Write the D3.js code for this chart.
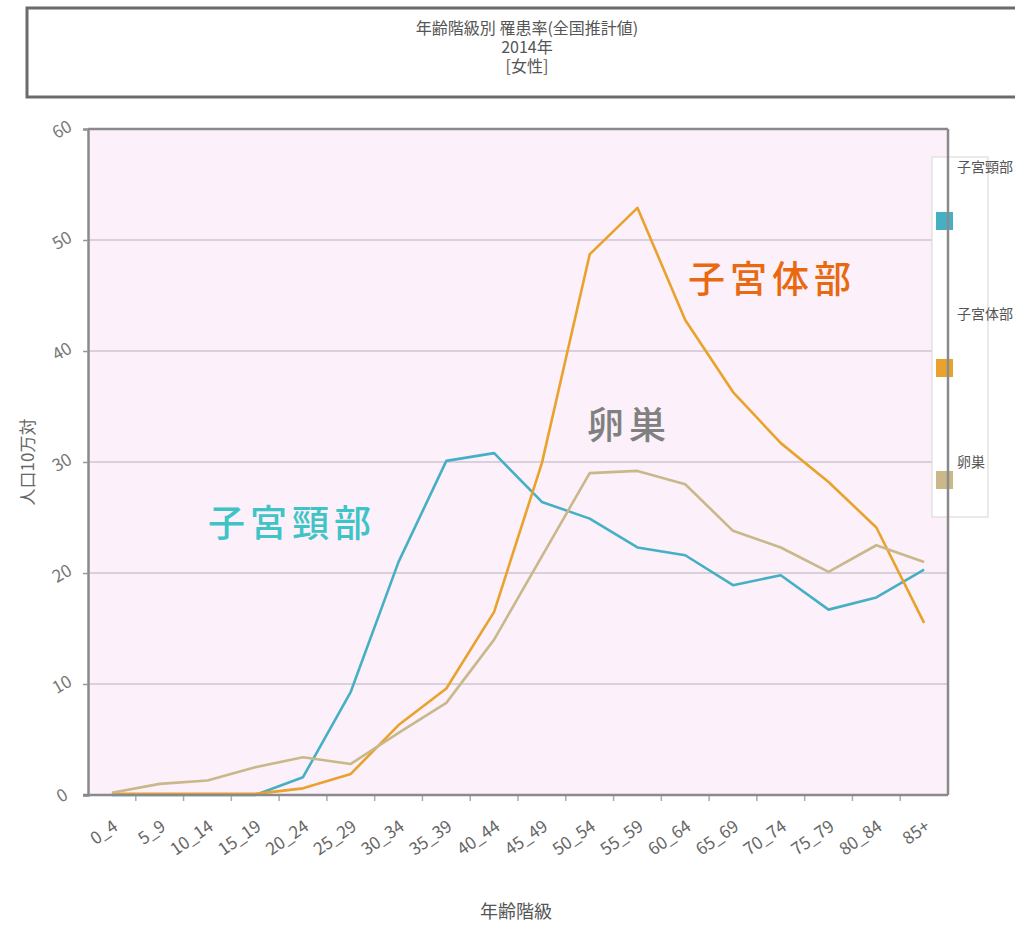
<!DOCTYPE html>
<html lang="ja">
<head>
<meta charset="UTF-8">
<title>年齢階級別 罹患率</title>
<script src="https://d3js.org/d3.v7.min.js"></script>
<style>
    body { margin: 0; background: #fff; }
    svg text { font-family: "Noto Sans CJK JP", "Noto Sans", sans-serif; }
</style>
</head>
<body>
<svg id="chart" width="1015" height="928"></svg>
<script>
    // age groups and rates per 100,000
    let ageGroups = ['0_4','5_9','10_14','15_19','20_24','25_29','30_34','35_39','40_44',
                     '45_49','50_54','55_59','60_64','65_69','70_74','75_79','80_84','85+'];
    let cervix = [0, 0, 0, 0, 1.6, 9.3, 21.0, 30.1, 30.8, 26.4, 24.9, 22.3, 21.6, 18.9, 19.8, 16.7, 17.8, 20.3];
    let corpus = [0.1, 0.1, 0.1, 0.1, 0.6, 1.9, 6.3, 9.6, 16.5, 29.9, 48.7, 52.9, 42.8, 36.3, 31.7, 28.2, 24.1, 15.5];
    let ovary  = [0.2, 1.0, 1.3, 2.5, 3.4, 2.8, 5.6, 8.3, 14.0, 21.5, 29.0, 29.2, 28.0, 23.8, 22.3, 20.1, 22.5, 21.0];
    let yTicks = [0, 10, 20, 30, 40, 50, 60];

    let seriesNames = ['子宮頸部', '子宮体部', '卵巣'];
    let seriesColors = ['#45b0c4', '#e9a22c', '#c9b88a'];
    let seriesData = [cervix, corpus, ovary];

    let svg = d3.select('#chart');
    let m = {left: 88, right: 948, top: 129, bottom: 795};

    // title box
    svg.append('rect')
        .attr('x', 27).attr('y', 8).attr('width', 1000).attr('height', 89)
        .attr('fill', '#fff').attr('stroke', '#6b6b6b').attr('stroke-width', 3);
    let titleLines = ['年齢階級別 罹患率(全国推計値)', '2014年', '[女性]'];
    svg.selectAll('text.title')
        .data(titleLines)
        .enter()
        .append('text')
        .attr('class', 'title')
        .attr('x', 527)
        .attr('y', function(d, i){ return 34 + i * 19; })
        .attr('text-anchor', 'middle')
        .attr('font-size', 16)
        .attr('fill', '#555')
        .text(function(d){ return d; });

    let x = d3.scaleBand().domain(ageGroups).range([m.left, m.right]);
    let y = d3.scaleLinear().domain([0, 60]).range([m.bottom, m.top]);

    // plot background
    svg.append('rect')
        .attr('x', m.left).attr('y', m.top)
        .attr('width', m.right - m.left).attr('height', m.bottom - m.top)
        .attr('fill', '#fcf0fa');

    // grid
    svg.selectAll('line.grid')
        .data(yTicks.filter(function(d){ return d > 0 && d < 60; }))
        .enter()
        .append('line')
        .attr('class', 'grid')
        .attr('x1', m.left).attr('x2', m.right)
        .attr('y1', function(d){ return y(d); })
        .attr('y2', function(d){ return y(d); })
        .attr('stroke', '#cfc6d0').attr('stroke-width', 1.5);

    // lines
    let line = d3.line()
        .x(function(d, i){ return x(ageGroups[i]) + x.bandwidth() / 2; })
        .y(function(d){ return y(d); });
    svg.selectAll('path.series')
        .data(seriesData)
        .enter()
        .append('path')
        .attr('class', 'series')
        .attr('d', line)
        .attr('fill', 'none')
        .attr('stroke', function(d, i){ return seriesColors[i]; })
        .attr('stroke-width', 2.6)
        .attr('stroke-linejoin', 'round');

    // legend box (plot border is drawn over it)
    svg.append('rect')
        .attr('x', 932).attr('y', 157).attr('width', 56).attr('height', 360)
        .attr('fill', '#fff').attr('stroke', '#dcdcdc').attr('stroke-width', 1.2);
    let legendTextY = [172, 319, 467];
    let legendSwatchY = [212, 359, 471];
    seriesNames.forEach(function(name, i){
        svg.append('rect')
            .attr('x', 936).attr('y', legendSwatchY[i])
            .attr('width', 17).attr('height', 18)
            .attr('fill', seriesColors[i]);
        svg.append('text')
            .attr('x', 957).attr('y', legendTextY[i])
            .attr('font-size', 14).attr('fill', '#555')
            .text(name);
    });

    // axes
    let yAxis = svg.append('g')
        .attr('transform', 'translate(' + m.left + ',0)')
        .call(d3.axisLeft(y).tickValues(yTicks).tickSize(5).tickPadding(14));
    yAxis.select('.domain').attr('stroke', '#8a8a8a').attr('stroke-width', 2.5);
    yAxis.selectAll('.tick line').attr('stroke', '#999').attr('stroke-width', 1.5);
    yAxis.selectAll('.tick text')
        .attr('font-size', 17).attr('fill', '#777')
        .attr('text-anchor', 'middle')
        .attr('transform', 'translate(-26,0) rotate(-30)')
        .attr('x', 0).attr('dy', '0.35em');

    let xAxis = svg.append('g')
        .attr('transform', 'translate(0,' + m.bottom + ')')
        .call(d3.axisBottom(x).tickSize(0).tickPadding(0));
    xAxis.select('.domain').remove();
    xAxis.selectAll('.tick text')
        .attr('font-size', 17).attr('fill', '#666')
        .attr('text-anchor', 'end')
        .attr('y', 0).attr('dy', 0)
        .attr('transform', 'translate(7,34) rotate(-35)');

    // category boundary ticks
    svg.selectAll('line.xtick')
        .data(ageGroups.slice(1))
        .enter()
        .append('line')
        .attr('class', 'xtick')
        .attr('x1', function(d){ return x(d); })
        .attr('x2', function(d){ return x(d); })
        .attr('y1', m.bottom).attr('y2', m.bottom + 6)
        .attr('stroke', '#aaa').attr('stroke-width', 1.5);

    // plot border
    svg.append('line')
        .attr('x1', m.left).attr('x2', m.right).attr('y1', m.top).attr('y2', m.top)
        .attr('stroke', '#8a8a8a').attr('stroke-width', 2.5);
    svg.append('line')
        .attr('x1', m.right).attr('x2', m.right).attr('y1', m.top).attr('y2', m.bottom)
        .attr('stroke', '#8a8a8a').attr('stroke-width', 2.5);
    svg.append('line')
        .attr('x1', m.left - 5).attr('x2', m.right).attr('y1', m.bottom).attr('y2', m.bottom)
        .attr('stroke', '#8a8a8a').attr('stroke-width', 2.5);

    // axis titles
    svg.append('text')
        .attr('transform', 'translate(34,' + 462 + ') rotate(-90)')
        .attr('text-anchor', 'middle')
        .attr('font-size', 17).attr('fill', '#666')
        .text('人口10万対');
    svg.append('text')
        .attr('x', 516).attr('y', 918)
        .attr('text-anchor', 'middle')
        .attr('font-size', 18).attr('fill', '#555')
        .text('年齢階級');

    // series annotations
    let annoText = ['子宮頸部', '子宮体部', '卵巣'];
    let annoColor = ['#3ec4c6', '#e8690f', '#808080'];
    let annoPos = [[292, 537], [772, 293], [629, 439]];
    annoText.forEach(function(t, i){
        svg.append('text')
            .attr('x', annoPos[i][0]).attr('y', annoPos[i][1])
            .attr('text-anchor', 'middle')
            .attr('font-size', 37).attr('font-weight', 500)
            .attr('letter-spacing', 5)
            .attr('fill', annoColor[i])
            .text(t);
    });
</script>
</body>
</html>
